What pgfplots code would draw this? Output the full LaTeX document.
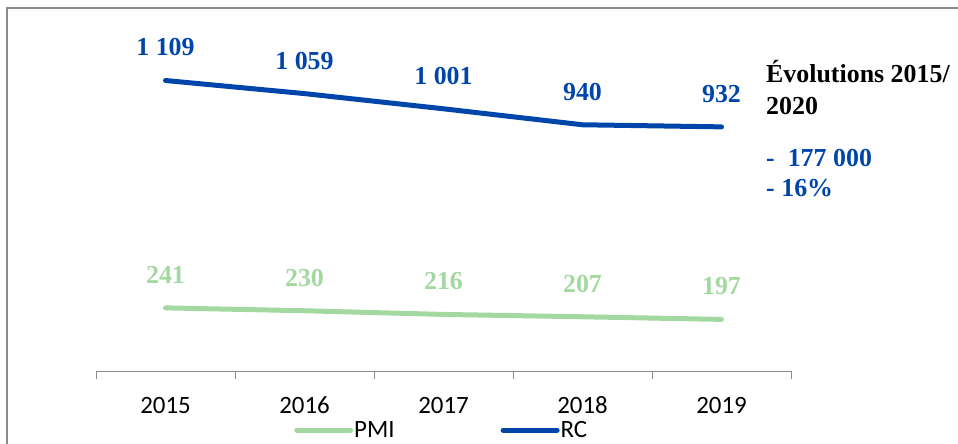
\documentclass[border=0pt]{standalone}
\usepackage{pgfplots}
\pgfplotsset{compat=1.18}
\usepackage{fontspec}
\setmainfont{Liberation Serif}
\newfontfamily\carlito{Carlito}
\definecolor{rcblue}{RGB}{0,70,170}
\definecolor{pmigreen}{RGB}{163,217,160}
\definecolor{framegray}{RGB}{140,140,140}
\begin{document}
\begin{tikzpicture}
\useasboundingbox (0,0) rectangle (958bp,444bp);
\draw[framegray, line width=1.3bp] (7bp,-5bp) -- (7bp,436bp) -- (965bp,436bp);
\begin{axis}[
  at={(96bp,73bp)}, anchor=south west,
  scale only axis, width=695bp, height=351bp,
  xmin=-0.5, xmax=4.5, ymin=0, ymax=1340,
  hide y axis,
  axis x line*=bottom,
  x axis line style={framegray, line width=1bp, -},
  xtick={0,...,4}, xticklabels={2015,2016,2017,2018,2019},
  major x tick style={draw=none},
  minor xtick={-0.5,0.5,1.5,2.5,3.5,4.5},
  minor x tick style={framegray, line width=1bp},
  minor tick length=8bp, major tick length=8bp, tick align=outside,
  xticklabel style={font=\carlito\fontsize{25}{30}\selectfont, text=black, text height=17bp, text depth=0pt, yshift=-14bp},
  clip=false,
  nodes near coords,
  point meta=explicit symbolic,
  every node near coord/.append style={font=\bfseries\fontsize{26}{30}\selectfont, anchor=center, yshift=33bp},
  legend columns=2,
  legend style={at={(198bp,-59bp)}, anchor=west, draw=none, fill=none, inner sep=0pt,
    font=\carlito\fontsize{25}{30}\selectfont,
    /tikz/every even column/.append style={column sep=105bp},
    nodes={inner xsep=1bp, inner ysep=0pt}},
  legend image code/.code={\draw[#1] (0bp,0bp) -- (54bp,0bp);},
]
\addplot[pmigreen, line width=5bp, line cap=round, line join=round,
  every node near coord/.append style={text=pmigreen}]
  coordinates {(0,241) [241] (1,230) [230] (2,216) [216] (3,207) [207] (4,197) [197]};
\addlegendentry{PMI}
\addplot[rcblue, line width=5bp, line cap=round, line join=round,
  every node near coord/.append style={text=rcblue}]
  coordinates {(0,1109) [1 109] (1,1059) [1 059] (2,1001) [1 001] (3,940) [940] (4,932) [932]};
\addlegendentry{RC}
\end{axis}
\node[anchor=base west, inner sep=0pt, font=\bfseries\fontsize{26}{30}\selectfont] at (766bp,361bp) {Évolutions 2015/};
\node[anchor=base west, inner sep=0pt, font=\bfseries\fontsize{26}{30}\selectfont] at (766bp,329bp) {2020};
\node[anchor=base west, inner sep=0pt, font=\bfseries\fontsize{26}{30}\selectfont, text=rcblue] at (766bp,277bp) {-\ \ 177 000};
\node[anchor=base west, inner sep=0pt, font=\bfseries\fontsize{26}{30}\selectfont, text=rcblue] at (766bp,247bp) {- 16\%};
\end{tikzpicture}
\end{document}
